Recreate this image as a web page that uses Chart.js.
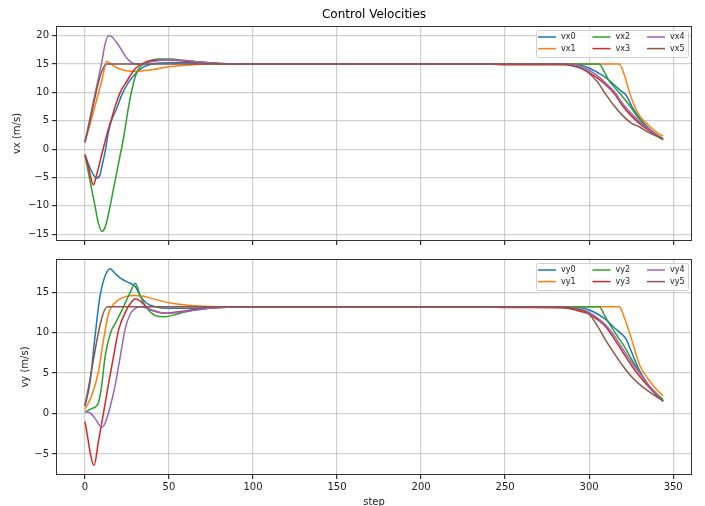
<!DOCTYPE html>
<html>
<head>
<meta charset="utf-8">
<script src="https://cdn.jsdelivr.net/npm/chart.js@4"></script>
<style>
  html, body { margin: 0; padding: 0; background: #fff; }
  #wrap { position: relative; width: 705px; height: 506px; overflow: hidden; }
  #wrap canvas { position: absolute; left: 0; }
</style>
</head>
<body>
<div id="wrap">
  <canvas id="topChart" width="705" height="250" style="top:0"></canvas>
  <canvas id="botChart" width="705" height="256" style="top:250px"></canvas>
</div>
<script>
// Control velocities as [step, value]
const vx0 = [[0,-1],[3,-3.3],[7,-5.1],[9,-4.5],[10,-3.2],[12,-0.5],[14,3],[16,5.2],[19,7.2],[22,9.6],[26,11.8],[30,13.3],[35,14.5],[40,15.0],[50,15.2],[60,15.2],[80,15.05],[100,15],[290,15],[295,14.8],[300,14.3],[305,13.5],[310,12.6],[315,11.3],[320,10.0],[322,9.5],[326,7.2],[330,5.5],[335,3.8],[340,2.5],[344,1.7]];
const vx1 = [[0,1.2],[5,6.5],[10,12],[13,15.5],[15,15.1],[20,14.2],[25,13.8],[30,13.7],[40,14.0],[50,14.5],[60,14.8],[70,14.95],[80,15],[318,15],[321,13],[324,10],[327,7.6],[330,5.9],[335,4.3],[340,3.0],[344,2.3]];
const vx2 = [[0,-1],[3,-5.5],[6,-10],[8,-13],[10,-14.5],[12,-13.8],[14,-11.5],[17,-7],[20,-2.5],[23,2],[26,7.5],[28,10.5],[30,12.8],[32,14.2],[35,15.0],[40,15.7],[45,15.9],[50,15.9],[60,15.6],[70,15.3],[80,15.1],[100,15],[306,15],[309,13.6],[312,12],[316,10.6],[320,9.2],[325,7.3],[330,5.2],[335,3.7],[340,2.6],[344,1.8]];
const vx3 = [[0,-1],[2,-3],[5,-6.3],[7,-4.5],[10,-1],[13,2.5],[16,5.5],[18,7.5],[21,10],[25,12],[30,14.2],[35,15.2],[40,15.6],[50,15.7],[60,15.5],[70,15.3],[80,15.1],[100,15],[240,15],[250,14.85],[285,14.85],[290,14.7],[295,14.3],[300,13.5],[305,12.5],[310,11.3],[315,9.8],[320,7.6],[325,5.9],[330,4.5],[335,3.4],[340,2.4],[344,1.7]];
const vx4 = [[0,1.2],[5,8.3],[10,15.3],[12,18.5],[14,20],[16,19.8],[20,18.3],[25,16],[29,15.1],[33,15],[40,15.4],[50,15.8],[60,15.6],[70,15.3],[80,15.1],[100,15],[285,15],[290,14.9],[295,14.6],[300,13.9],[305,12.9],[310,11.6],[315,10.1],[320,8.0],[325,6.3],[330,4.8],[335,3.6],[340,2.5],[344,1.6]];
const vx5 = [[0,1.2],[13,15],[285,15],[290,14.7],[295,14.3],[300,13.4],[305,11.8],[310,9.6],[315,7.6],[320,5.9],[325,4.6],[330,3.9],[335,3.0],[340,2.3],[344,1.8]];

const vy0 = [[0,0.9],[3,3.8],[6,9.5],[9,14.5],[12,17],[15,17.9],[18,17.3],[22,16.6],[27,16.1],[30,15.7],[33,14.5],[37,13.6],[42,13.2],[50,13.0],[60,13.0],[80,13.15],[100,13.2],[290,13.2],[295,13.1],[300,12.8],[305,12.3],[310,11.6],[315,10.6],[320,9.7],[322,9.2],[326,7.2],[330,5.3],[335,3.6],[340,2.3],[344,1.5]];
const vy1 = [[0,0.5],[4,2.2],[8,5.1],[11,9],[14,12.3],[17,13.5],[22,14.3],[29,14.6],[35,14.5],[40,14.2],[50,13.7],[60,13.4],[70,13.25],[80,13.2],[318,13.2],[321,11.8],[324,10],[327,8],[330,6],[335,4.3],[340,3],[344,2.2]];
const vy2 = [[0,0.2],[4,0.6],[8,1.3],[10,3.5],[12,7],[15,9.8],[19,11.5],[23,13.2],[27,15],[30,16.1],[33,14.5],[37,13],[42,12.1],[47,11.95],[55,12.3],[65,12.8],[80,13.1],[100,13.2],[306,13.2],[309,12.2],[312,11.1],[316,9.8],[320,8.6],[325,6.8],[330,5.1],[335,3.6],[340,2.5],[344,1.7]];
const vy3 = [[0,-1],[5.5,-6.4],[8,-3.5],[11,0],[14,3.6],[17,7],[20,10.3],[24,12.5],[27,13.6],[30,14.2],[33,13.9],[37,13.1],[42,12.6],[48,12.4],[60,12.7],[70,12.95],[80,13.1],[100,13.2],[240,13.2],[250,13.1],[285,13.05],[290,12.9],[295,12.6],[300,12.3],[305,11.6],[310,10.7],[315,9.2],[320,7.6],[325,6.0],[330,4.6],[335,3.4],[340,2.3],[344,1.5]];
const vy4 = [[0,0.2],[3,0.1],[6,-0.6],[10,-1.7],[12,-1.2],[15,0.8],[18,3.5],[21,7],[24,10.5],[27,12.3],[30,13.0],[33,13.2],[38,12.9],[45,12.5],[50,12.4],[60,12.6],[70,12.9],[80,13.1],[100,13.2],[285,13.2],[290,13.1],[295,12.9],[300,12.5],[305,11.8],[310,10.9],[315,9.6],[320,8.0],[325,6.4],[330,5.0],[335,3.6],[340,2.4],[344,1.5]];
const vy5 = [[0,1],[13.5,13.2],[285,13.2],[290,13.0],[295,12.8],[300,12.3],[305,10.8],[310,9.0],[315,7.4],[320,5.9],[325,4.6],[330,3.6],[335,2.8],[340,2.1],[344,1.6]];

const xTicks = [0, 50, 100, 150, 200, 250, 300, 350];
const vxTicks = [-15, -10, -5, 0, 5, 10, 15, 20];
const vyTicks = [-5, 0, 5, 10, 15];

const colors = ['#1f77b4', '#ff7f0e', '#2ca02c', '#d62728', '#9467bd', '#8c564b'];
const FONT = "'DejaVu Sans', 'Liberation Sans', sans-serif";

// Frame, title and matplotlib-like legend (3 columns, upper right)
const framePlugin = {
    id: 'frame',
    afterDraw(chart, args, opts) {
        const { ctx, chartArea: a } = chart;
        ctx.save();
        ctx.strokeStyle = '#333';
        ctx.lineWidth = 1;
        ctx.strokeRect(Math.round(a.left) + 0.5, Math.round(a.top) + 0.5,
            Math.round(a.right - a.left) - 1, Math.round(a.bottom - a.top) - 1);

        if (opts.title) {
            ctx.fillStyle = '#000';
            ctx.font = '12px ' + FONT;
            ctx.textAlign = 'center';
            ctx.textBaseline = 'middle';
            ctx.fillText(opts.title, (a.left + a.right) / 2, 15);
        }

        // legend box
        const bw = 152, bh = 27;
        const bx = a.right - 156, by = a.top + 4;
        ctx.fillStyle = 'rgba(255,255,255,0.8)';
        ctx.strokeStyle = '#d0d0d0';
        ctx.beginPath();
        ctx.roundRect(bx + 0.5, by + 0.5, bw, bh, 2);
        ctx.fill();
        ctx.stroke();

        ctx.font = '8px ' + FONT;
        ctx.textAlign = 'left';
        ctx.textBaseline = 'middle';
        chart.data.datasets.forEach((ds, i) => {
            const c = Math.floor(i / 2), r = i % 2;
            const lx = bx + 2 + c * 54.5;
            const ly = by + 7 + r * 11.6;
            ctx.strokeStyle = ds.borderColor;
            ctx.lineWidth = 1.5;
            ctx.beginPath();
            ctx.moveTo(lx, ly);
            ctx.lineTo(lx + 18, ly);
            ctx.stroke();
            ctx.fillStyle = '#222';
            ctx.fillText(ds.label, lx + 23, ly);
        });
        ctx.restore();
    }
};

function makeDatasets(prefix, series) {
    return series.map((pts, i) => ({
        label: prefix + i,
        data: pts.map(([x, y]) => ({ x: x, y: y })),
        borderColor: colors[i],
        backgroundColor: colors[i],
        borderWidth: 1.5,
        pointRadius: 0,
        cubicInterpolationMode: 'monotone',
        fill: false,
        order: series.length - i
    }));
}

const minus = v => String(v).replace('-', '\u2212');

function makeChart(canvasId, cfg) {
    return new Chart(document.getElementById(canvasId), {
        type: 'line',
        data: { datasets: makeDatasets(cfg.prefix, cfg.series) },
        options: {
            responsive: false,
            animation: false,
            events: [],
            layout: { padding: { top: cfg.padTop, right: 13, left: 0, bottom: 0 } },
            plugins: {
                legend: { display: false },
                tooltip: { enabled: false },
                frame: { title: cfg.title }
            },
            scales: {
                x: {
                    type: 'linear',
                    min: -17.2,
                    max: 361.2,
                    afterBuildTicks: s => { s.ticks = xTicks.map(v => ({ value: v })); },
                    afterFit: s => { s.height = cfg.xHeight; },
                    grid: { color: 'rgba(176,176,176,0.6)', lineWidth: 1.2, tickLength: 4, tickColor: '#333' },
                    border: { display: false },
                    ticks: {
                        autoSkip: false,
                        maxRotation: 0,
                        padding: 2,
                        color: '#222',
                        font: { family: FONT, size: 10 },
                        callback: v => cfg.showX ? minus(v) : ''
                    },
                    title: {
                        display: cfg.showX,
                        text: 'step',
                        color: '#222',
                        font: { family: FONT, size: 10 },
                        padding: { top: 0, bottom: -2 }
                    }
                },
                y: {
                    min: cfg.yMin,
                    max: cfg.yMax,
                    afterBuildTicks: s => { s.ticks = cfg.yTicks.map(v => ({ value: v })); },
                    afterFit: s => { s.width = 56; },
                    grid: { color: 'rgba(176,176,176,0.6)', lineWidth: 1.2, tickLength: 4, tickColor: '#333' },
                    border: { display: false },
                    ticks: {
                        padding: 3,
                        color: '#222',
                        font: { family: FONT, size: 10 },
                        callback: v => minus(v)
                    },
                    title: {
                        display: true,
                        text: cfg.yTitle,
                        color: '#222',
                        font: { family: FONT, size: 10 },
                        padding: { top: cfg.yTitlePad, bottom: 0 }
                    }
                }
            }
        },
        plugins: [framePlugin]
    });
}

makeChart('topChart', {
    prefix: 'vx',
    series: [vx0, vx1, vx2, vx3, vx4, vx5],
    title: 'Control Velocities',
    padTop: 26,
    xHeight: 8,
    showX: false,
    yMin: -16.2,
    yMax: 21.7,
    yTicks: vxTicks,
    yTitle: 'vx (m/s)',
    yTitlePad: 11
});

makeChart('botChart', {
    prefix: 'vy',
    series: [vy0, vy1, vy2, vy3, vy4, vy5],
    title: null,
    padTop: 7,
    xHeight: 31,
    showX: true,
    yMin: -7.6,
    yMax: 19.1,
    yTicks: vyTicks,
    yTitle: 'vy (m/s)',
    yTitlePad: 19
});
</script>
</body>
</html>
